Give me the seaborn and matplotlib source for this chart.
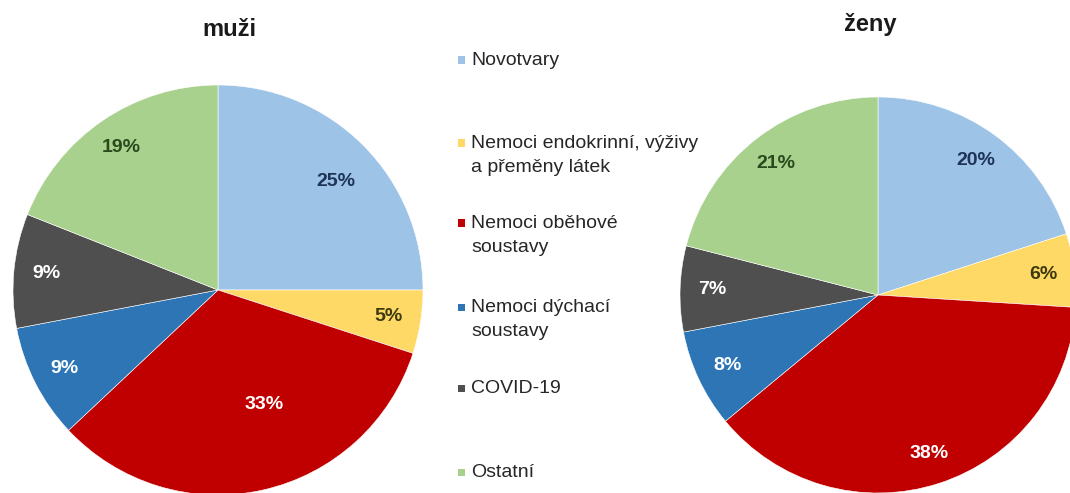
import numpy as np
import seaborn as sns
import matplotlib.pyplot as plt

sns.set_theme(style="white")
plt.rcParams['font.family'] = ['Liberation Sans', 'DejaVu Sans']

# data
categories = ["Novotvary", "Nemoci endokrinní, výživy\na přeměny látek",
              "Nemoci oběhové\nsoustavy", "Nemoci dýchací\nsoustavy",
              "COVID-19", "Ostatní"]
muzi = [25, 5, 33, 9, 9, 19]
zeny = [20, 6, 38, 8, 7, 21]

colors = sns.color_palette(["#9DC3E6", "#FFD966", "#C00000", "#2E75B6", "#4F4F4F", "#A9D18E"])
label_colors = ["#1F3458", "#3D3A10", "white", "white", "white", "#2A4A1C"]

W, H = 1070, 493
fig = plt.figure(figsize=(W / 100, H / 100), dpi=100)


def px_axes(cx, cy, r):
    return fig.add_axes([(cx - r) / W, (H - cy - r) / H, 2 * r / W, 2 * r / H])


def draw_pie(ax, vals, override=None):
    wedges, texts, autotexts = ax.pie(
        vals, colors=colors, startangle=90, counterclock=False,
        autopct=lambda p: f"{p:.0f}%", pctdistance=0.84,
        wedgeprops=dict(linewidth=0.4, edgecolor="white"),
        textprops=dict(fontsize=14, fontweight="bold"))
    for t, c in zip(autotexts, label_colors):
        t.set_color(c)
    if override:
        for i, (rr, ang) in override.items():
            a = np.deg2rad(ang)
            autotexts[i].set_position((rr * np.cos(a), rr * np.sin(a)))
    ax.set_xlim(-1, 1)
    ax.set_ylim(-1, 1)
    ax.set_axis_off()


ax1 = px_axes(218, 290, 205)
draw_pie(ax1, muzi, override={0: (0.78, 42.7), 2: (0.6, -68)})
ax2 = px_axes(878, 295, 198)
draw_pie(ax2, zeny)

fig.text(229 / W, 1 - 30 / H, "muži", ha="center", va="center", fontsize=17, fontweight="bold",
         color="#1a1a1a")
fig.text(870 / W, 1 - 25 / H, "ženy", ha="center", va="center", fontsize=17, fontweight="bold",
         color="#1a1a1a")

# legend
leg_y = [60, 143, 223, 307, 388, 472]
for lab, col, y in zip(categories, colors, leg_y):
    fig.patches.append(plt.Rectangle((458 / W, 1 - (y + 3.5) / H), 7 / W, 7 / H,
                                     transform=fig.transFigure, facecolor=col, edgecolor="none"))
    fig.text(471 / W, 1 - (y - 8) / H, lab, ha="left", va="top", fontsize=14,
             color="#262626", linespacing=1.55)

fig.savefig("out.png", dpi=100)
